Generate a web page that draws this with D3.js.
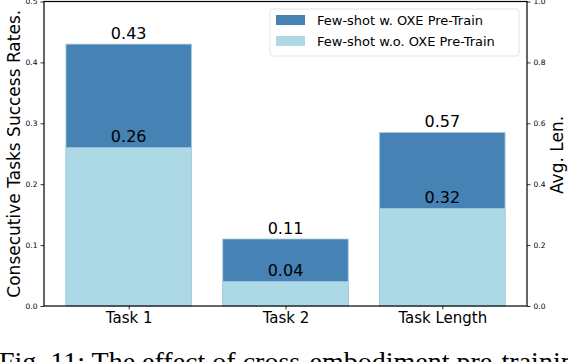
<!DOCTYPE html>
<html>
<head>
<meta charset="utf-8">
<script src="https://cdn.jsdelivr.net/npm/d3@7"></script>
<style>
  body { margin: 0; background: #fff; }
  svg { display: block; font-family: "DejaVu Sans", sans-serif; }
</style>
</head>
<body>
<svg id="chart" width="568" height="362"></svg>
<script>
// data
var categories = ['Task 1', 'Task 2', 'Task Length'];
var withOXE = [0.43, 0.11, 0.57];     // Few-shot w. OXE Pre-Train
var withoutOXE = [0.26, 0.04, 0.32];  // Few-shot w.o. OXE Pre-Train
var useRightAxis = [false, false, true];
var leftTicks = [0, 0.1, 0.2, 0.3, 0.4, 0.5];
var rightTicks = [0, 0.2, 0.4, 0.6, 0.8, 1.0];
var seriesNames = ['Few-shot w. OXE Pre-Train', 'Few-shot w.o. OXE Pre-Train'];
var colors = ['#4682b4', '#add8e6'];

var svg = d3.select('#chart');
var plotL = 44, plotR = 527, plotT = 1.5, plotB = 306;

var x = d3.scaleLinear().domain([-0.54, 2.54]).range([plotL, plotR]);
var yL = d3.scaleLinear().domain([0, 0.5]).range([plotB, plotT]);
var yR = d3.scaleLinear().domain([0, 1.0]).range([plotB, plotT]);

function yFor(i) { return useRightAxis[i] ? yR : yL; }

var rows = categories.map(function(c, i) {
    return {cat: c, i: i, hi: withOXE[i], lo: withoutOXE[i]};
});

// bars: dark (with OXE) behind, light (without) in front
[['hi', 0], ['lo', 1]].forEach(function(s) {
    svg.selectAll('.bar-' + s[0]).data(rows).enter().append('rect')
        .attr('class', 'bar-' + s[0])
        .attr('x', function(d) { return x(d.i - 0.4); })
        .attr('width', function(d) { return x(d.i + 0.4) - x(d.i - 0.4); })
        .attr('y', function(d) { return yFor(d.i)(d[s[0]]); })
        .attr('height', function(d) { return plotB - yFor(d.i)(d[s[0]]); })
        .attr('fill', colors[s[1]])
        .attr('stroke', '#a3cbe2')
        .attr('stroke-width', 0.8);
});

// value labels
['hi', 'lo'].forEach(function(k) {
    svg.selectAll('.lab-' + k).data(rows).enter().append('text')
        .attr('x', function(d) { return x(d.i); })
        .attr('y', function(d) { return yFor(d.i)(d[k]) - 5.5; })
        .attr('text-anchor', 'middle')
        .attr('font-size', 16)
        .attr('fill', '#000')
        .text(function(d) { return d[k].toFixed(2); });
});

// axes
var axL = svg.append('g').attr('transform', 'translate(' + plotL + ',0)')
    .call(d3.axisLeft(yL).tickValues(leftTicks).tickFormat(d3.format('.1f')).tickSize(3.5).tickPadding(3));
var axR = svg.append('g').attr('transform', 'translate(' + plotR + ',0)')
    .call(d3.axisRight(yR).tickValues(rightTicks).tickFormat(d3.format('.1f')).tickSize(3.5).tickPadding(3));
var axB = svg.append('g').attr('transform', 'translate(0,' + plotB + ')')
    .call(d3.axisBottom(x).tickValues([0, 1, 2]).tickFormat(function(d) { return categories[d]; }).tickSize(3.5).tickPadding(3));

[axL, axR].forEach(function(g) {
    g.attr('font-family', null);
    g.selectAll('text').attr('font-size', 7.5).attr('fill', '#000');
    g.select('.domain').remove();
    g.selectAll('line').attr('stroke', '#000').attr('stroke-width', 0.8);
});
axB.attr('font-family', null);
axB.selectAll('text').attr('font-size', 15).attr('fill', '#000');
axB.select('.domain').remove();
axB.selectAll('line').attr('stroke', '#000').attr('stroke-width', 0.8);

// spines
svg.append('rect').attr('x', plotL).attr('y', plotT).attr('width', plotR - plotL).attr('height', plotB - plotT)
    .attr('fill', 'none').attr('stroke', '#000').attr('stroke-width', 1.2);

// axis titles
svg.append('text')
    .attr('transform', 'translate(20,' + ((plotT + plotB) / 2) + ') rotate(-90)')
    .attr('text-anchor', 'middle').attr('font-size', 17)
    .text('Consecutive Tasks Success Rates.');
svg.append('text')
    .attr('transform', 'translate(563,155) rotate(-90)')
    .attr('text-anchor', 'middle').attr('font-size', 17)
    .text('Avg. Len.');

// legend
var lg = svg.append('g').attr('transform', 'translate(270,9)');
lg.append('rect').attr('width', 249).attr('height', 47).attr('rx', 2.5)
    .attr('fill', '#fff').attr('fill-opacity', 0.8).attr('stroke', '#ddd').attr('stroke-width', 0.8);
seriesNames.forEach(function(n, i) {
    lg.append('rect').attr('x', 6).attr('y', 6 + i * 21).attr('width', 29).attr('height', 10).attr('fill', colors[i]);
    lg.append('text').attr('x', 47).attr('y', 16 + i * 21).attr('font-size', 13).text(n);
});

// caption (cut off at the bottom of the picture)
svg.append('text')
    .attr('x', -1).attr('y', 370.5)
    .style('font-family', '"Liberation Serif", serif').attr('font-size', 28)
    .text('Fig. 11: The effect of cross-embodiment pre-training on');
</script>
</body>
</html>
